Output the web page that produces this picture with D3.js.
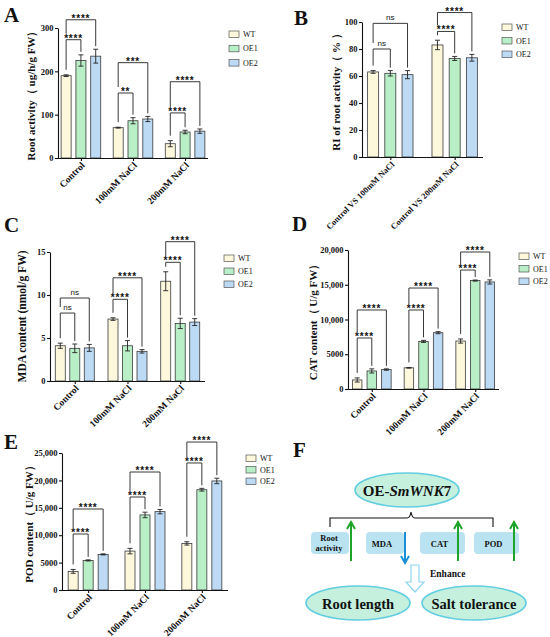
<!DOCTYPE html>
<html>
<head>
<meta charset="utf-8">
<script src="https://cdn.jsdelivr.net/npm/d3@7"></script>
<style>
  body { margin: 0; background: #fff; }
  text { font-family: "Liberation Serif", "Times New Roman", serif; fill: #111; }
</style>
</head>
<body>
<div id="chart"></div>
<script>
// categories
const groups = ["Control", "100mM NaCl", "200mM NaCl"];
const groupsRI = ["Control VS 100mM NaCl", "Control VS 200mM NaCl"];
const series = ["WT", "OE1", "OE2"];
const colors = ["#fdf8dc", "#b8efc6", "#bcdaf4"];

// A: root activity (ug/h/g FW), rows = groups, cols = WT, OE1, OE2
const rootMean = [[190, 225, 235], [70, 86, 90], [33, 60, 62]];
const rootErr = [[2, 13, 16], [1, 7, 6], [7, 4, 5]];
const rootSig = [["****", "****"], ["**", "***"], ["****", "****"]];
const rootSigLevel = [[273, 319], [150, 220], [104, 176]];

// B: RI of root activity (%)
const riMean = [[63, 62, 61], [83, 73, 73.5]];
const riErr = [[1, 2, 3], [3.5, 1.5, 2.5]];
const riSig = [["ns", "ns"], ["****", "****"]];
const riSigLevel = [[80, 99], [93, 107]];

// C: MDA content (nmol/g FW)
const mdaMean = [[4.1, 3.8, 3.85], [7.2, 4.1, 3.45], [11.6, 6.7, 6.85]];
const mdaErr = [[0.3, 0.5, 0.4], [0.15, 0.6, 0.2], [1.1, 0.6, 0.4]];
const mdaSig = [["ns", "ns"], ["****", "****"], ["****", "****"]];
const mdaSigLevel = [[7.9, 9.65], [9.5, 12], [13.8, 16.2]];

// D: CAT content (U/g FW)
const catMean = [[1300, 2600, 2800], [3050, 6850, 8100], [6900, 15600, 15400]];
const catErr = [[300, 300, 100], [50, 150, 150], [300, 80, 300]];
const catSig = [["****", "****"], ["****", "****"], ["****", "****"]];
const catSigLevel = [[7340, 11370], [11370, 14530], [17120, 19710]];

// E: POD content (U/g FW)
const podMean = [[3400, 5400, 6500], [7100, 13700, 14300], [8500, 18300, 19900]];
const podErr = [[350, 100, 100], [500, 500, 400], [300, 250, 500]];
const podSig = [["****", "****"], ["****", "****"], ["****", "****"]];
const podSigLevel = [[10220, 14780], [16970, 21530], [23180, 27000]];

// tick labels
const rootTicks = [0, 100, 200, 300];
const riTicks = [0, 20, 40, 60, 80, 100];
const mdaTicks = [0, 5, 10, 15];
const catTicks = [0, 5000, 10000, 15000, 20000];
const podTicks = [0, 5000, 10000, 15000, 20000, 25000];

const svg = d3.select("#chart").append("svg")
    .attr("width", 550)
    .attr("height", 637);

svg.append("rect").attr("width", 550).attr("height", 637).attr("fill", "#fff");

const bigFmt = (d) => d < 10000 ? String(d) : d3.format(",")(d);

function drawPanel(p) {
    const g = svg.append("g");

    const y = d3.scaleLinear().domain([0, p.max]).range([p.y0, p.y1]);
    const x = d3.scalePoint().domain(p.groups).range([p.x0, p.x1]).padding(p.pad);
    const xs = d3.scaleBand().domain(series)
        .range([-1.5 * p.step, 1.5 * p.step])
        .paddingInner(1 - p.bw / p.step)
        .paddingOuter((1 - p.bw / p.step) / 2);

    const rows = p.groups.map((name, i) => ({ name, i }));

    // bars
    rows.forEach((r) => {
        const cx = x(r.name);
        series.forEach((s, j) => {
            const m = p.mean[r.i][j], e = p.err[r.i][j];
            const bx = cx + xs(s);
            g.append("rect")
                .attr("x", bx).attr("y", y(m))
                .attr("width", xs.bandwidth()).attr("height", y(0) - y(m))
                .attr("fill", colors[j])
                .attr("stroke", "#3a3a3a").attr("stroke-width", 0.8);
            const mx = bx + xs.bandwidth() / 2;
            g.append("line")
                .attr("x1", mx).attr("x2", mx)
                .attr("y1", y(m - e)).attr("y2", y(m + e))
                .attr("stroke", "#222").attr("stroke-width", 0.9);
            [m - e, m + e].forEach((v) => {
                g.append("line")
                    .attr("x1", mx - 2.5).attr("x2", mx + 2.5)
                    .attr("y1", y(v)).attr("y2", y(v))
                    .attr("stroke", "#222").attr("stroke-width", 0.9);
            });
        });
    });

    // axes
    const ya = g.append("g")
        .attr("transform", `translate(${p.x0},0)`)
        .call(d3.axisLeft(y).tickValues(p.ticks).tickFormat(p.fmt || String).tickSize(3).tickSizeOuter(0));
    ya.selectAll("text")
        .style("font-family", "Liberation Serif")
        .style("font-weight", "bold")
        .style("font-size", "8.5px")
        .attr("fill", "#111")
        .attr("x", -4.5);

    const xa = g.append("g")
        .attr("transform", `translate(0,${p.y0})`)
        .call(d3.axisBottom(x).tickSize(3).tickSizeOuter(0));
    xa.select(".domain").attr("d", `M${p.x0},0.5H${p.x1}`);
    xa.selectAll("text")
        .attr("x", 0).attr("y", 0).attr("dy", 0)
        .attr("transform", "translate(4,8) rotate(-45)")
        .style("text-anchor", "end")
        .style("font-family", "Liberation Serif")
        .style("font-weight", "bold")
        .style("font-size", p.xFont + "px")
        .attr("fill", "#111");
    [ya, xa].forEach((a) => {
        a.selectAll("path, line").attr("stroke", "#111").attr("stroke-width", 1.1);
    });

    // y label
    g.append("text")
        .attr("transform", `translate(${p.labelX},${(p.y0 + p.y1) / 2}) rotate(-90)`)
        .attr("text-anchor", "middle")
        .style("font-weight", "bold")
        .style("font-size", p.labelFont + "px")
        .text(p.yLabel);

    // significance brackets
    rows.forEach((r) => {
        const cx = x(r.name);
        const centre = (j) => cx + xs(series[j]) + xs.bandwidth() / 2;
        const barTop = (j) => y(p.mean[r.i][j] + p.err[r.i][j]);
        const innerY = y(p.sigLevel[r.i][0]);
        [1, 2].forEach((j, k) => {
            const by = y(p.sigLevel[r.i][k]);
            const x1 = centre(0), x2 = centre(j);
            const leftEnd = k === 0 ? barTop(0) - 5 : innerY - 6;
            const rightEnd = barTop(j) - 3;
            g.append("path")
                .attr("d", `M${x1},${leftEnd}V${by}H${x2}V${rightEnd}`)
                .attr("fill", "none")
                .attr("stroke", "#222").attr("stroke-width", 0.9);
            const label = p.sig[r.i][k];
            const isNs = label === "ns";
            g.append("text")
                .attr("x", (x1 + x2) / 2)
                .attr("y", isNs ? by - 3 : by + 2)
                .attr("text-anchor", "middle")
                .style("font-family", "Liberation Sans, Arial, sans-serif")
                .style("font-weight", isNs ? "normal" : "bold")
                .style("font-size", isNs ? "8px" : "10px")
                .style("letter-spacing", isNs ? "0" : "0.8px")
                .text(label);
        });
    });

    // legend
    series.forEach((s, j) => {
        const ly = p.legY + j * p.legStep;
        g.append("rect")
            .attr("x", p.legX).attr("y", ly - 3)
            .attr("width", 10).attr("height", 6.5)
            .attr("fill", colors[j]).attr("stroke", "#555").attr("stroke-width", 0.7);
        g.append("text")
            .attr("x", p.legX + 14).attr("y", ly + 3)
            .style("font-size", "8px")
            .text(s);
    });

    // panel letter
    g.append("text")
        .attr("x", p.letterX).attr("y", p.letterY)
        .style("font-weight", "bold")
        .style("font-size", "21px")
        .text(p.letter);
}

drawPanel({
    letter: "A", letterX: 4, letterY: 22,
    groups: groups, mean: rootMean, err: rootErr, sig: rootSig, sigLevel: rootSigLevel,
    max: 300, ticks: rootTicks,
    x0: 58, x1: 208, y0: 158, y1: 28, pad: 0.44, step: 14.8, bw: 10,
    labelX: 35, labelFont: 11, yLabel: "Root activity（ ug/h/g FW）", xFont: 9.5,
    legX: 229, legY: 34, legStep: 14.3
});

drawPanel({
    letter: "B", letterX: 294, letterY: 25,
    groups: groupsRI, mean: riMean, err: riErr, sig: riSig, sigLevel: riSigLevel,
    max: 100, ticks: riTicks,
    x0: 362, x1: 483, y0: 157, y1: 22, pad: 0.44, step: 17.2, bw: 11,
    labelX: 340, labelFont: 11, yLabel: "RI of root activity（ % ）", xFont: 8.5,
    legX: 502, legY: 27, legStep: 13.5
});

drawPanel({
    letter: "C", letterX: 4, letterY: 232,
    groups: groups, mean: mdaMean, err: mdaErr, sig: mdaSig, sigLevel: mdaSigLevel,
    max: 15, ticks: mdaTicks,
    x0: 50, x1: 205, y0: 381, y1: 252, pad: 0.47, step: 14.5, bw: 10,
    labelX: 26, labelFont: 11.5, yLabel: "MDA content (nmol/g FW)", xFont: 9.5,
    legX: 224, legY: 258, legStep: 13
});

drawPanel({
    letter: "D", letterX: 292, letterY: 231,
    groups: groups, mean: catMean, err: catErr, sig: catSig, sigLevel: catSigLevel,
    max: 20000, ticks: catTicks, fmt: bigFmt,
    x0: 348, x1: 499, y0: 389, y1: 250, pad: 0.46, step: 14.6, bw: 9.5,
    labelX: 317, labelFont: 11, yLabel: "CAT content（ U/g FW）", xFont: 9.5,
    legX: 519, legY: 256, legStep: 12.5
});

drawPanel({
    letter: "E", letterX: 4, letterY: 449,
    groups: groups, mean: podMean, err: podErr, sig: podSig, sigLevel: podSigLevel,
    max: 25000, ticks: podTicks, fmt: bigFmt,
    x0: 62, x1: 228, y0: 590, y1: 453, pad: 0.46, step: 15, bw: 10,
    labelX: 33, labelFont: 11, yLabel: "POD content（ U/g FW）", xFont: 9.5,
    legX: 246, legY: 458, legStep: 11.5
});

// F: schematic
const f = svg.append("g");
const ellFill = "#c4f0dd", ellStroke = "#63cde0";

f.append("text").attr("x", 293).attr("y", 457)
    .style("font-weight", "bold").style("font-size", "21px").text("F");

f.append("ellipse").attr("cx", 407).attr("cy", 490).attr("rx", 52).attr("ry", 17)
    .attr("fill", ellFill).attr("stroke", ellStroke).attr("stroke-width", 1.6);
const geneLabel = f.append("text").attr("x", 407).attr("y", 495.5).attr("text-anchor", "middle")
    .style("font-weight", "bold").style("font-size", "15px");
geneLabel.append("tspan").text("OE-");
geneLabel.append("tspan").style("font-style", "italic").text("SmWNK");
geneLabel.append("tspan").text("7");

// brace
f.append("path")
    .attr("d", "M330,527V518H407Q410,518 411,512Q412,518 415,518H493V527")
    .attr("fill", "none").attr("stroke", "#111").attr("stroke-width", 1.1);

const boxes = [
    { x: 311, w: 38, lines: ["Root", "activity"], arrow: 351, up: true },
    { x: 366, w: 38, lines: ["MDA"], arrow: 405, up: false },
    { x: 420, w: 45, lines: ["CAT"], arrow: 458, up: true },
    { x: 474, w: 45, lines: ["POD"], arrow: 514, up: true }
];
boxes.forEach((b) => {
    f.append("rect").attr("x", b.x).attr("y", 532).attr("width", b.w).attr("height", 22)
        .attr("rx", 4).attr("fill", "#b9e3f0");
    const cx = b.x + b.w / 2 - (b.lines.length > 1 ? 1 : 3);
    b.lines.forEach((t, k) => {
        f.append("text")
            .attr("x", cx)
            .attr("y", b.lines.length > 1 ? 541 + k * 9.5 : 546.5)
            .attr("text-anchor", "middle")
            .style("font-weight", "bold").style("font-size", "8.5px")
            .text(t);
    });
});
boxes.forEach((b) => {
    const col = b.up ? "#1fa32b" : "#1b8fd6";
    const y1 = b.up ? 561 : 532, y2 = b.up ? 522 : 563;
    const d = b.up ? -1 : 1;
    f.append("line").attr("x1", b.arrow).attr("x2", b.arrow).attr("y1", y1).attr("y2", y2 - d)
        .attr("stroke", col).attr("stroke-width", 2);
    f.append("path")
        .attr("d", `M${b.arrow - 4},${y2 - d * 7}L${b.arrow},${y2}L${b.arrow + 4},${y2 - d * 7}`)
        .attr("fill", "none").attr("stroke", col).attr("stroke-width", 2);
});

// hollow arrow
f.append("path")
    .attr("d", "M411,565H419V582H424L415,592L406,582H411Z")
    .attr("fill", "#fff").attr("stroke", "#8fd4ef").attr("stroke-width", 1.2);
f.append("text").attr("x", 430).attr("y", 577)
    .style("font-weight", "bold").style("font-size", "9.5px").text("Enhance");

[{ cx: 358, t: "Root length" }, { cx: 474, t: "Salt tolerance" }].forEach((e) => {
    f.append("ellipse").attr("cx", e.cx).attr("cy", 603).attr("rx", 52).attr("ry", 17)
        .attr("fill", ellFill).attr("stroke", ellStroke).attr("stroke-width", 1.6);
    f.append("text").attr("x", e.cx).attr("y", 608.5).attr("text-anchor", "middle")
        .style("font-weight", "bold").style("font-size", "14.5px").text(e.t);
});
</script>
</body>
</html>
